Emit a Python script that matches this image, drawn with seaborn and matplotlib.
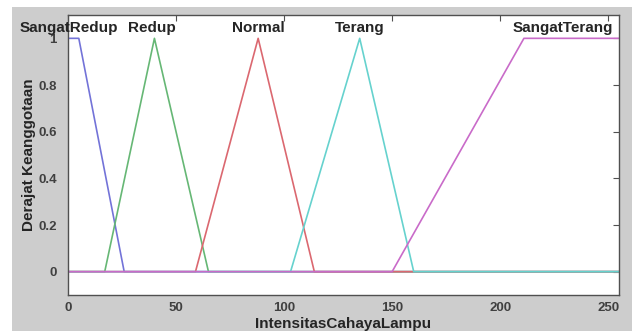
import pandas as pd
import seaborn as sns
import matplotlib
matplotlib.use("Agg")
import matplotlib.pyplot as plt
from matplotlib.patches import Rectangle

# membership function names and break points (x, y)
mf_names = ["SangatRedup", "Redup", "Normal", "Terang", "SangatTerang"]
mf_x = [
    [0, 5, 26, 255],
    [0, 17, 40, 65, 255],
    [0, 59, 88, 114, 255],
    [0, 103, 135, 160, 255],
    [0, 150, 211, 255],
]
mf_y = [
    [1, 1, 0, 0],
    [0, 0, 1, 0, 0],
    [0, 0, 1, 0, 0],
    [0, 0, 1, 0, 0],
    [0, 0, 1, 1],
]
label_x = [0.5, 39, 88, 135, 229]
mf_colors = ["#7373d8", "#66b775", "#db6870", "#66d2ce", "#c96bc9"]

x_ticks = [0, 50, 100, 150, 200, 250]
y_ticks = [0, 0.2, 0.4, 0.6, 0.8, 1]


def build_frame() -> pd.DataFrame:
    rows = []
    for name, xs, ys in zip(mf_names, mf_x, mf_y):
        for i, (x, y) in enumerate(zip(xs, ys)):
            rows.append({"mf": name, "order": i, "x": x, "y": y})
    return pd.DataFrame(rows)


def main():
    sns.set_style("white")
    plt.rcParams["font.family"] = ["Liberation Sans", "DejaVu Sans"]
    data = build_frame()

    fig = plt.figure(figsize=(6.32, 3.31), dpi=100)
    fig.patch.set_facecolor("white")
    fig.patches.append(Rectangle((12 / 632, 0), 1, 1 - 7 / 331, transform=fig.transFigure,
                                 facecolor="#cdcdcd", edgecolor="none", zorder=-10))
    ax = fig.add_axes([68 / 632, 1 - 295 / 331, 551 / 632, 280 / 331])
    ax.set_zorder(1)
    ax.set_facecolor("white")

    sns.lineplot(ax=ax, data=data, x="x", y="y", hue="mf", units="mf", estimator=None,
                 sort=False, palette=dict(zip(mf_names, mf_colors)), hue_order=mf_names,
                 linewidth=1.2, legend=False)

    for name, lx in zip(mf_names, label_x):
        ax.text(lx, 1.045, name, ha="center", va="center", fontsize=11,
                fontweight="bold", color="#252525", clip_on=False)

    ax.set_xlim(0, 255)
    ax.set_ylim(-0.1, 1.1)
    ax.set_xticks(x_ticks)
    ax.set_yticks(y_ticks)
    ax.set_yticklabels(["0", "0.2", "0.4", "0.6", "0.8", "1"])
    ax.tick_params(direction="in", length=4, width=0.8, top=True, right=True,
                   labelsize=9.5, labelcolor="#404040", color="#505050")
    ax.tick_params(axis="x", pad=5)
    ax.tick_params(axis="y", pad=8)
    for lab in ax.get_xticklabels() + ax.get_yticklabels():
        lab.set_fontweight("bold")
    for sp in ax.spines.values():
        sp.set_color("#505050")
        sp.set_linewidth(1.0)

    ax.set_xlabel("IntensitasCahayaLampu", fontsize=11, fontweight="bold", color="#252525", labelpad=2)
    ax.set_ylabel("Derajat Keanggotaan", fontsize=11, fontweight="bold", color="#252525")
    ax.yaxis.set_label_coords(-0.058, 0.5)

    fig.savefig("out.png", dpi=100, facecolor=fig.get_facecolor())


if __name__ == "__main__":
    main()
